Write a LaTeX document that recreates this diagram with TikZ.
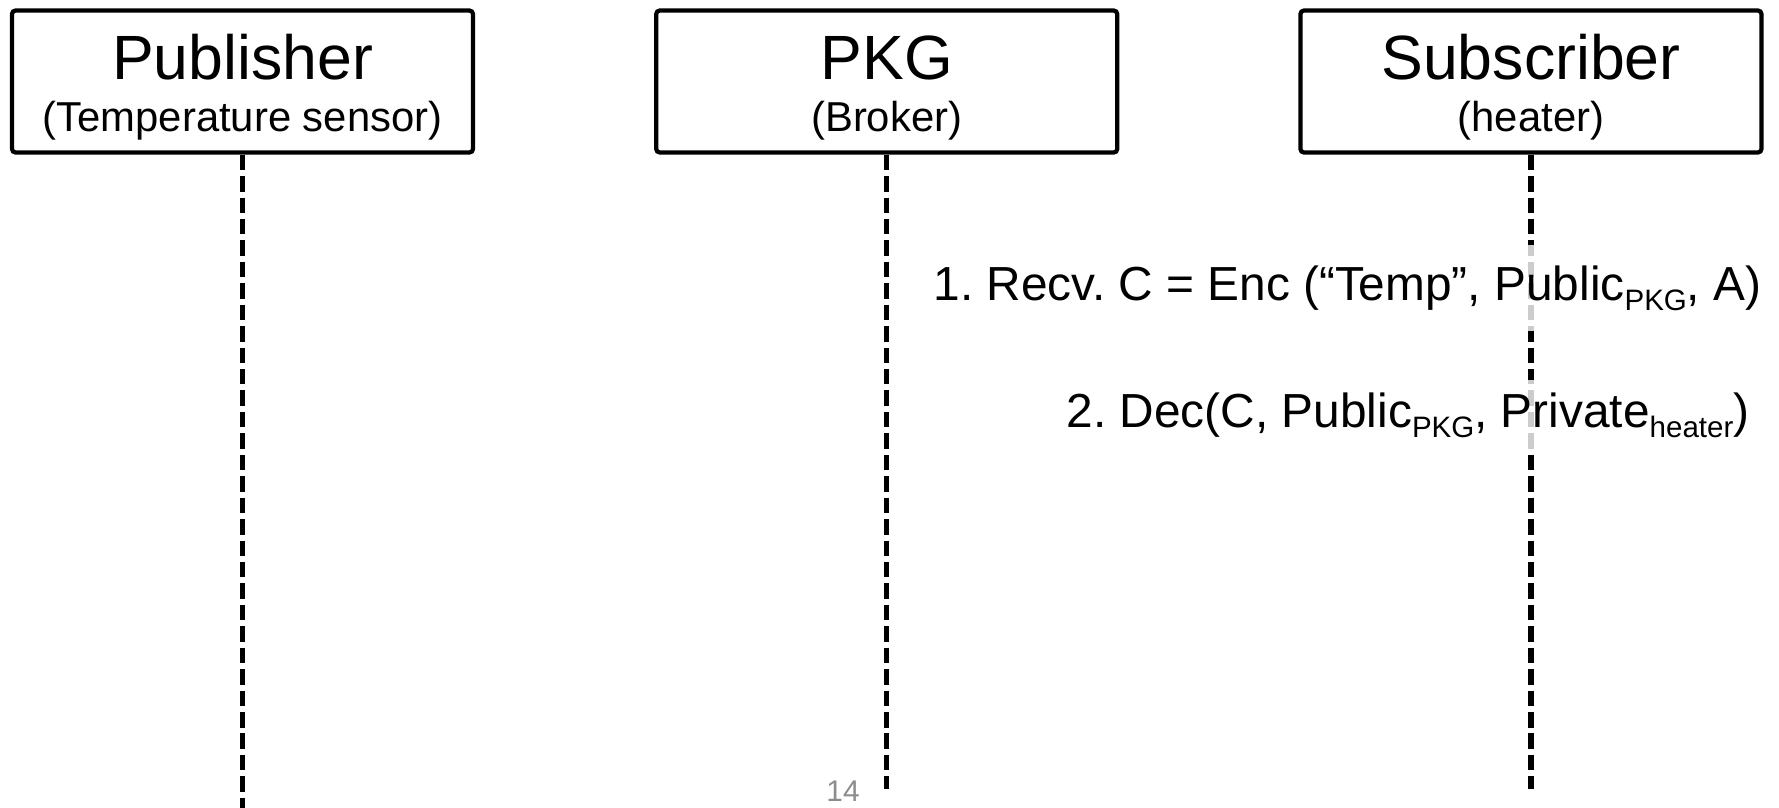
\documentclass[tikz,border=0pt]{standalone}
\usepackage{fontspec}
\setmainfont{Liberation Sans}
\usetikzlibrary{positioning}
\newcommand{\lowidx}[1]{\raisebox{-3pt}{\fontsize{8.4}{9}\selectfont #1}}
\frenchspacing

\begin{document}
\begin{tikzpicture}[
        node distance=1.79cm,
        actor/.style={draw, line width=1.2pt, rounded corners=1pt, minimum width=4.61cm, minimum height=1.42cm, inner sep=0pt},
        role/.style={anchor=base, inner sep=0pt, font=\fontsize{17.8}{20}\selectfont},
        kind/.style={anchor=base, inner sep=0pt, font=\fontsize{11.9}{14}\selectfont},
        lifeline/.style={line width=1.45pt, dash pattern=on 4.4pt off 1.7pt},
        msg/.style={anchor=base east, fill=white, fill opacity=0.8, text opacity=1, inner xsep=0.2cm, inner ysep=0.2cm, font=\fontsize{13.6}{16}\selectfont},
        pagenum/.style={text=black!45, inner sep=0pt, font=\fontsize{8.5}{10}\selectfont},
    ]
    \useasboundingbox (0,0) rectangle (17.79,-8.07);

    % Actors
    \node[actor] (pub) at (2.425,-0.815) {};
    \node[actor, right=of pub] (pkg) {};
    \node[actor, right=of pkg] (sub) {};

    \node[role] (pubname) at ([yshift=-0.71cm]pub.north) {Publisher};
    \node[kind] (pubkind) at ([yshift=-1.23cm]pub.north) {(Temperature sensor)};
    \node[role] (pkgname) at ([yshift=-0.71cm]pkg.north) {PKG};
    \node[kind] (pkgkind) at ([yshift=-1.23cm]pkg.north) {(Broker)};
    \node[role] (subname) at ([yshift=-0.71cm]sub.north) {Subscriber};
    \node[kind] (subkind) at ([yshift=-1.23cm]sub.north) {(heater)};

    % Lifelines
    \path (pub.south) ++(0,-6.545) coordinate (pubend);
    \path (pkg.south) ++(0,-6.345) coordinate (pkgend);
    \path (sub.south) ++(0,-6.345) coordinate (subend);
    \draw[lifeline] (pub.south) -- (pubend);
    \draw[lifeline] (pkg.south) -- (pkgend);
    \draw[lifeline] (sub.south) -- (subend);

    % Steps at the subscriber
    \node[msg] (recv) at (17.82,-3.00) {1. Recv. C = Enc (“Temp”, Public\lowidx{PKG}, A)};
    \node[msg, inner ysep=0.12cm] (dec) at (17.70,-4.27) {2. Dec(C, Public\lowidx{PKG}, Private\lowidx{heater})};

    \node[pagenum] (pageno) at (8.43,-7.91) {14};

\end{tikzpicture}
\end{document}
